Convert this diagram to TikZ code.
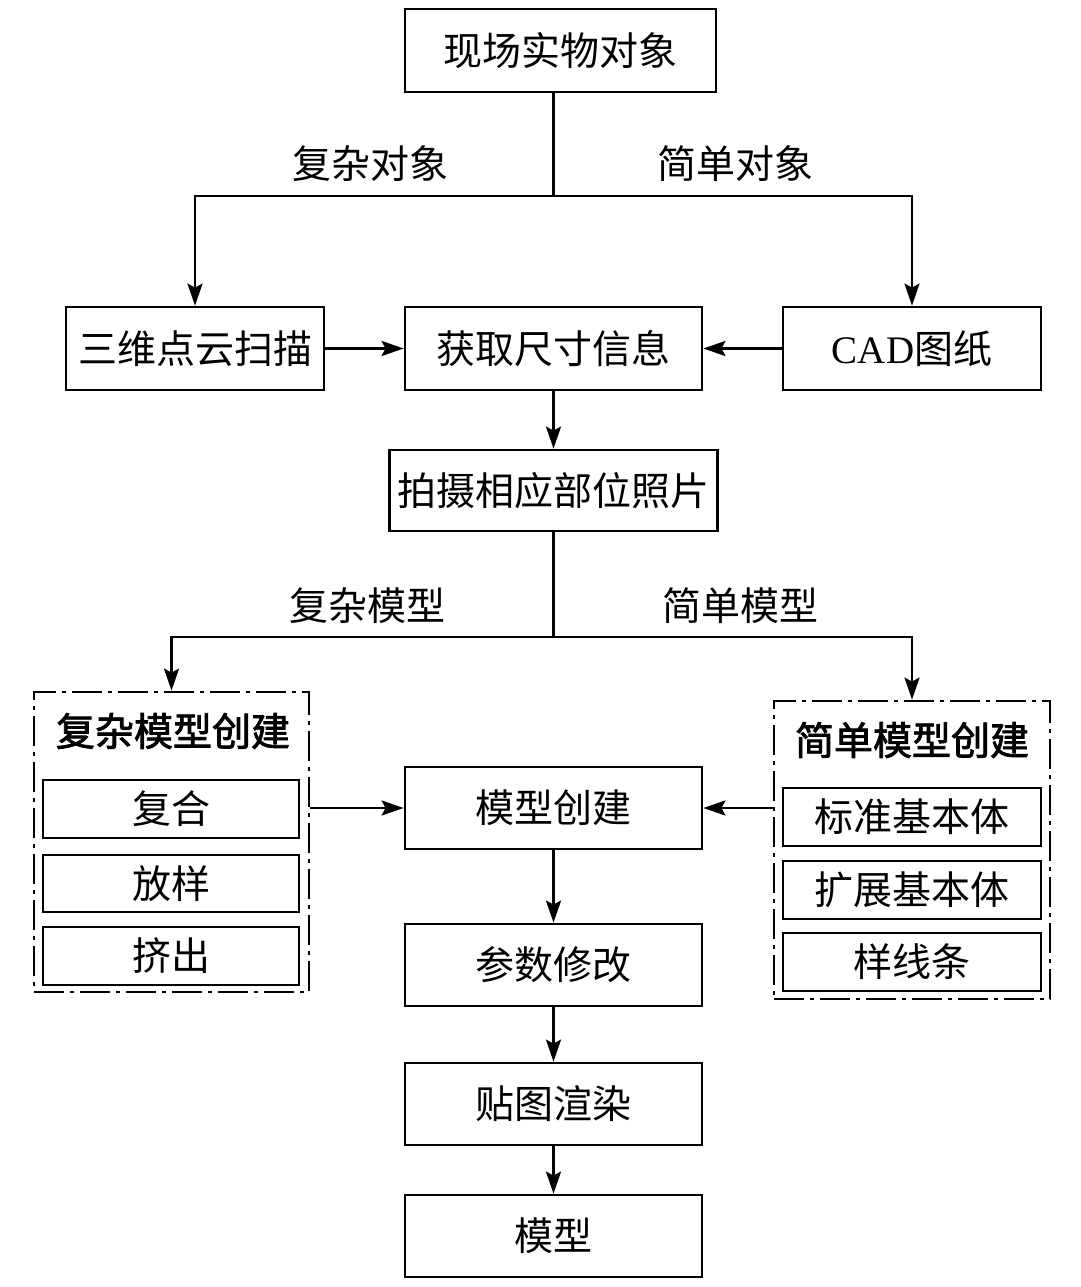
\documentclass[tikz,border=0pt]{standalone}
\usepackage{fontspec}
\setmainfont{Liberation Serif}
\newfontfamily\cjk{Noto Sans CJK SC}
\newfontfamily\cjkb[FakeBold=2]{Noto Sans CJK SC}
\usetikzlibrary{arrows.meta}
\begin{document}
\begin{tikzpicture}[x=1pt,y=-1pt,
  mybox/.style={draw, line width=2.8pt, inner sep=0pt, font=\fontsize{39}{46}\selectfont\cjk},
  dbox/.style={draw, line width=2.8pt, inner sep=0pt, dash pattern=on 30pt off 6pt on 4pt off 6pt},
  lbl/.style={inner sep=0pt, font=\fontsize{39}{46}\selectfont\cjk},
  hd/.style={inner sep=0pt, font=\fontsize{39}{46}\selectfont\cjkb},
  ln/.style={line width=2.8pt},
  arr/.style={line width=2.8pt, -{Stealth[length=22pt,width=15pt,inset=4pt]}}]
\useasboundingbox[fill=white] (0,0) rectangle (1080,1287);
% top level
\node[mybox, minimum width=311pt, minimum height=83pt] (top) at (560.5,50.5) {现场实物对象};
\node[mybox, minimum width=258pt, minimum height=83pt] (scan) at (195,348.5) {三维点云扫描};
\node[mybox, minimum width=297pt, minimum height=83pt] (get) at (553.5,348.5) {获取尺寸信息};
\node[mybox, minimum width=258pt, minimum height=83pt] (cad) at (912,348.5) {{\rmfamily CAD}图纸};
\node[mybox, minimum width=328pt, minimum height=81pt] (photo) at (553.5,490.5) {拍摄相应部位照片};
\node[lbl] (l1) at (370,164) {复杂对象};
\node[lbl] (l2) at (735,164) {简单对象};
\node[lbl] (l3) at (367,606) {复杂模型};
\node[lbl] (l4) at (740,606) {简单模型};
% dash-dot groups
\node[dbox, minimum width=275pt, minimum height=300pt] (cg) at (171.5,842) {};
\node[hd] (cgh) at (173,731) {复杂模型创建};
\node[mybox, minimum width=256pt, minimum height=58pt] (c1) at (171,809) {复合};
\node[mybox, minimum width=256pt, minimum height=57pt] (c2) at (171,883.5) {放样};
\node[mybox, minimum width=256pt, minimum height=58pt] (c3) at (171,956) {挤出};
\node[dbox, minimum width=276pt, minimum height=298pt] (sg) at (912,850) {};
\node[hd] (sgh) at (912,740) {简单模型创建};
\node[mybox, minimum width=258pt, minimum height=58pt] (s1) at (912,817) {标准基本体};
\node[mybox, minimum width=258pt, minimum height=58pt] (s2) at (912,890) {扩展基本体};
\node[mybox, minimum width=258pt, minimum height=58pt] (s3) at (912,962) {样线条};
% lower chain
\node[mybox, minimum width=297pt, minimum height=82pt] (mk) at (553.5,808) {模型创建};
\node[mybox, minimum width=297pt, minimum height=82pt] (par) at (553.5,965) {参数修改};
\node[mybox, minimum width=297pt, minimum height=82pt] (tex) at (553.5,1104) {贴图渲染};
\node[mybox, minimum width=297pt, minimum height=82pt] (mod) at (553.5,1236) {模型};
% connectors
\coordinate (b1) at (553.5,196);
\coordinate (b2) at (553.5,637);
\draw[ln] (b1 |- top.south) -- (b1);
\draw[arr] (b1) -| (scan.north);
\draw[arr] (b1) -| (cad.north);
\draw[arr] (scan.east) -- (get.west);
\draw[arr] (cad.west) -- (get.east);
\draw[arr] (get.south) -- (photo.north);
\draw[ln] (photo.south) -- (b2);
\draw[arr] (b2) -| (cg.north);
\draw[arr] (b2) -| (sg.north);
\draw[arr] (cg.east |- mk.west) -- (mk.west);
\draw[arr] (sg.west |- mk.east) -- (mk.east);
\draw[arr] (mk.south) -- (par.north);
\draw[arr] (par.south) -- (tex.north);
\draw[arr] (tex.south) -- (mod.north);
\end{tikzpicture}
\end{document}
